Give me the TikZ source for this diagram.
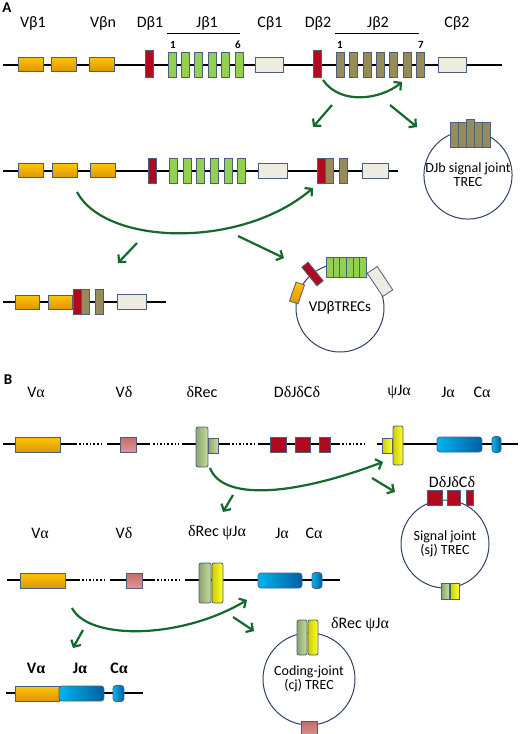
\documentclass[tikz,border=0pt]{standalone}
\usepackage{fontspec}
\setmainfont{Carlito}
\newfontfamily\grk{Liberation Serif}
\usepackage{tikz}
\definecolor{segedge}{RGB}{75, 95, 125}
\definecolor{vgold}{RGB}{255, 196, 0}
\definecolor{vorange}{RGB}{222, 150, 10}
\definecolor{dred}{RGB}{175, 10, 30}
\definecolor{jgreen}{RGB}{146, 208, 80}
\definecolor{jolive}{RGB}{150, 140, 90}
\definecolor{cgrey}{RGB}{238, 236, 225}
\definecolor{trecblue}{RGB}{45, 65, 105}
\definecolor{recgreen}{RGB}{20, 105, 45}
\definecolor{recleft}{RGB}{140, 165, 110}
\definecolor{recright}{RGB}{200, 220, 160}
\definecolor{psileft}{RGB}{205, 205, 0}
\definecolor{psiright}{RGB}{255, 255, 50}
\definecolor{jalight}{RGB}{0, 180, 240}
\definecolor{jadark}{RGB}{0, 95, 160}
\definecolor{vdred}{RGB}{200, 105, 105}
\definecolor{vdlight}{RGB}{222, 150, 150}
\usetikzlibrary{shapes, arrows, arrows.meta, positioning, calc}
\newcommand{\grkalpha}{{\grk α}}
\newcommand{\grkdelta}{{\grk δ}}
\newcommand{\grkpsi}{{\grk ψ}}

\begin{document}
\begin{tikzpicture}[
    x=1pt, y=-1pt,
    >={Straight Barb[length=5pt, width=11pt]},
    chrom/.style={line width=1.8pt},
    gap/.style={line width=1.8pt, dash pattern=on 1.6pt off 2pt},
    seg/.style={rectangle, draw=segedge, line width=0.8pt, inner sep=0pt, outer sep=0pt},
    vseg/.style={seg, top color=vgold, bottom color=vorange, minimum width=25pt, minimum height=14pt},
    dseg/.style={seg, fill=dred, minimum width=8pt, minimum height=27pt},
    jseg/.style={seg, fill=jgreen, minimum width=8pt, minimum height=25pt},
    oseg/.style={seg, fill=jolive, minimum width=8pt, minimum height=25pt},
    cseg/.style={seg, fill=cgrey, minimum width=28pt, minimum height=15pt},
    vdseg/.style={seg, top color=vdred, bottom color=vdlight, minimum width=16pt, minimum height=15pt},
    recseg/.style={seg, left color=recleft, right color=recright},
    psiseg/.style={seg, left color=psileft, right color=psiright},
    jaseg/.style={seg, left color=jalight, right color=jadark, rounded corners=3pt},
    redbox/.style={seg, fill=dred, minimum height=15pt},
    lbl/.style={font=\fontsize{16}{18}\selectfont},
    num/.style={font=\fontsize{11}{12}\selectfont\bfseries},
    panel/.style={font=\fontsize{15}{17}\selectfont\bfseries},
    trec/.style={circle, draw=trecblue, line width=1pt, align=center, inner sep=0pt, font=\fontsize{14}{14}\selectfont},
    arrow/.style={->, draw=recgreen, line width=2.2pt}
]
    \useasboundingbox (0,0) rectangle (520,734);

    % ---------- A ----------
    \node[panel] (pA) at (7,8) {A};
    \node[lbl] (lVb1) at (33,23) {Vβ1};
    \node[lbl] (lVbn) at (103,23) {Vβn};
    \node[lbl] (lDb1) at (150,23) {Dβ1};
    \node[lbl] (lJb1) at (207,23) {Jβ1};
    \node[lbl] (lCb1) at (270,23) {Cβ1};
    \node[lbl] (lDb2) at (318,23) {Dβ2};
    \node[lbl] (lJb2) at (378,23) {Jβ2};
    \node[lbl] (lCb2) at (457,23) {Cβ2};
    \draw[line width=0.9pt] (167,33) -- (240,33);
    \draw[line width=0.9pt] (335,33) -- (419,33);
    \node[num] (nJ1a) at (173,45) {1};
    \node[num] (nJ1b) at (238,45) {6};
    \node[num] (nJ2a) at (340,45) {1};
    \node[num] (nJ2b) at (421,45) {7};

    % germline
    \draw[chrom] (3,65) -- (502,65);
    \node[vseg] (vA1) at (30.5,64) {};
    \node[vseg] (vA2) at (63.5,64) {};
    \node[vseg] (vA3) at (102,64) {};
    \node[dseg] (dA1) at (149.5,63.5) {};
    \foreach \i in {1,...,6} \node[jseg] (jA\i) at ({158.6+13.4*\i},64.5) {};
    \node[cseg] (cA1) at (269,64.5) {};
    \node[dseg] (dA2) at (317.5,63.5) {};
    \foreach \i in {1,...,7} \node[oseg] (kA\i) at ({327.2+13.33*\i},64.5) {};
    \node[cseg] (cA2) at (452,64.5) {};

    \coordinate (djS) at (323,80);
    \coordinate (djE) at (402,82);
    \draw[arrow] (djS) .. controls (340,105) and (380,100) .. (djE);
    \coordinate (dj1S) at (332,105);
    \coordinate (dj1E) at (313,127);
    \coordinate (dj2S) at (390,105);
    \coordinate (dj2E) at (417,127);
    \draw[arrow] (dj1S) -- (dj1E);
    \draw[arrow] (dj2S) -- (dj2E);

    % DJ rearranged
    \draw[chrom] (3,171) -- (398,171);
    \node[vseg] (vB1) at (31,170.5) {};
    \node[vseg] (vB2) at (64.5,170.5) {};
    \node[vseg] (vB3) at (103,170.5) {};
    \node[dseg, minimum height=25pt] (dB1) at (152,170.5) {};
    \foreach \i in {1,...,6} \node[jseg] (jB\i) at ({159.9+13.6*\i},170.5) {};
    \node[cseg, minimum width=29pt] (cB1) at (272.5,170.5) {};
    \node[dseg, minimum height=25pt] (dB2) at (321.5,170.5) {};
    \node[oseg] (kB1) at (329.5,170.5) {};
    \node[oseg] (kB2) at (343.5,170.5) {};
    \node[cseg, minimum width=26pt] (cB2) at (375,170.5) {};

    % DJb TREC
    \node[trec, minimum size=86pt] (djb) at (468,175) {DJb signal joint\\TREC};
    \node[oseg] (tk1) at (454,134.5) {};
    \node[oseg] (tk2) at (462,134.5) {};
    \node[oseg, minimum height=28pt] (tk3) at (470,133) {};
    \node[oseg] (tk4) at (478,134.5) {};
    \node[oseg] (tk5) at (486,134.5) {};

    \coordinate (vdS) at (77,192);
    \coordinate (vdE) at (313,188);
    \draw[arrow] (vdS) .. controls (105,245) and (240,250) .. (vdE);
    \coordinate (vd1S) at (137,243);
    \coordinate (vd1E) at (118,263);
    \coordinate (vd2S) at (238,236);
    \coordinate (vd2E) at (284,258);
    \draw[arrow] (vd1S) -- (vd1E);
    \draw[arrow] (vd2S) -- (vd2E);

    % VDJ rearranged
    \draw[chrom] (3,302) -- (166,302);
    \node[vseg, minimum width=24pt] (vC1) at (27,302) {};
    \node[vseg, minimum width=24pt] (vC2) at (60,302) {};
    \node[dseg, minimum height=25pt] (dC1) at (77.5,301.5) {};
    \node[oseg] (kC1) at (85.5,301.5) {};
    \node[oseg] (kC2) at (99.5,301.5) {};
    \node[cseg, minimum width=29pt] (cC1) at (131.5,301.5) {};

    % VDb TRECs
    \node[trec, minimum size=88pt, font=\fontsize{15}{16}\selectfont] (vdb) at (340,308) {VDβTRECs};
    \node[vseg, minimum width=20pt, minimum height=9pt, rotate=71] (tv1) at (297,293) {};
    \node[dseg, minimum height=24pt, rotate=39] (td1) at (312.5,274) {};
    \foreach \i in {1,...,6} \node[jseg, minimum width=6.7pt, minimum height=20pt] (tj\i) at ({323+6.67*\i},267) {};
    \node[cseg, minimum width=28pt, minimum height=12pt, rotate=-56.5] (tc1) at (380,281.5) {};

    % ---------- B ----------
    \node[panel] (pB) at (8,380) {B};
    \node[lbl] (lVa) at (36,392) {V\grkalpha};
    \node[lbl] (lVd) at (124,392) {V\grkdelta};
    \node[lbl] (lRec) at (202,392) {\grkdelta Rec};
    \node[lbl] (lDJC) at (297,392) {D\grkdelta J\grkdelta C\grkdelta};
    \node[lbl] (lPsi) at (399,392) {\grkpsi J\grkalpha};
    \node[lbl] (lJa) at (448,392) {J\grkalpha};
    \node[lbl] (lCa) at (482,392) {C\grkalpha};

    % germline
    \draw[chrom] (3,444) -- (77,444);
    \draw[gap] (79,444) -- (104,444);
    \draw[chrom] (107,444) -- (150,444);
    \draw[gap] (153,444) -- (179,444);
    \draw[chrom] (182,444) -- (230,444);
    \draw[gap] (232,444) -- (257,444);
    \draw[chrom] (258,444) -- (340,444);
    \draw[gap] (342,444) -- (367,444);
    \draw[chrom] (377,444) -- (518,444);
    \node[vseg, minimum width=45pt, minimum height=15pt] (vaA) at (37.5,444.5) {};
    \node[vdseg] (vdA) at (128,444.5) {};
    \node[recseg, minimum width=12pt, minimum height=40pt, rounded corners=2pt] (recA) at (202,447) {};
    \node[recseg, minimum width=10pt, minimum height=15pt] (recA2) at (213,445.5) {};
    \node[redbox, minimum width=16pt] (rdA1) at (278,444.5) {};
    \node[redbox, minimum width=15pt] (rdA2) at (302.5,444.5) {};
    \node[redbox, minimum width=11pt] (rdA3) at (324.5,444.5) {};
    \node[psiseg, minimum width=10pt, minimum height=15pt] (psA2) at (387,445.5) {};
    \node[psiseg, minimum width=10pt, minimum height=39pt, rounded corners=2pt] (psA) at (398,445.5) {};
    \node[jaseg, minimum width=45pt, minimum height=15pt] (jaA) at (459.5,444.5) {};
    \node[jaseg, minimum width=9pt, minimum height=16pt] (caA) at (496.5,444.5) {};

    \coordinate (sjS) at (210,468);
    \coordinate (sjE) at (383,462);
    \draw[arrow] (sjS) .. controls (222,500) and (290,497) .. (sjE);
    \coordinate (sj1S) at (233,495);
    \coordinate (sj1E) at (223,512);
    \coordinate (sj2S) at (372,478);
    \coordinate (sj2E) at (395,492);
    \draw[arrow] (sj1S) -- (sj1E);
    \draw[arrow] (sj2S) -- (sj2E);

    % sj TREC
    \node[trec, minimum size=88pt] (sjt) at (445,544) {Signal joint\\(sj) TREC};
    \node[lbl] (lDJC2) at (452,482) {D\grkdelta J\grkdelta C\grkdelta};
    \node[redbox, minimum width=15pt] (trd1) at (434.5,497.5) {};
    \node[redbox, minimum width=13pt] (trd2) at (453.5,497.5) {};
    \node[redbox, minimum width=7pt] (trd3) at (469.5,497.5) {};
    \node[recseg, minimum width=8pt, minimum height=16pt] (trc1) at (445,591) {};
    \node[psiseg, minimum width=9pt, minimum height=16pt] (trp1) at (454.5,591) {};

    % deletion of delta locus
    \node[lbl] (lVa2) at (40,533) {V\grkalpha};
    \node[lbl] (lVd2) at (124,533) {V\grkdelta};
    \node[lbl] (lRP2) at (217,533) {\grkdelta Rec \grkpsi J\grkalpha};
    \node[lbl] (lJa2) at (282,533) {J\grkalpha};
    \node[lbl] (lCa2) at (314,533) {C\grkalpha};
    \draw[chrom] (7,580) -- (80,580);
    \draw[gap] (82,580) -- (106,580);
    \draw[chrom] (110,580) -- (155,580);
    \draw[gap] (157,580) -- (181,580);
    \draw[chrom] (185,580) -- (340,580);
    \node[vseg, minimum width=45pt, minimum height=15pt] (vaB) at (42.5,580.5) {};
    \node[vdseg] (vdB) at (134,580.5) {};
    \node[recseg, minimum width=12pt, minimum height=40pt, rounded corners=2pt] (recB) at (205,583) {};
    \node[psiseg, minimum width=11pt, minimum height=40pt, rounded corners=2pt] (psB) at (217.5,583) {};
    \node[jaseg, minimum width=44pt, minimum height=15pt] (jaB) at (280,580.5) {};
    \node[jaseg, minimum width=10pt, minimum height=16pt] (caB) at (317,580.5) {};

    \coordinate (cjS) at (72,608);
    \coordinate (cjE) at (247,600);
    \draw[arrow] (cjS) .. controls (88,640) and (180,640) .. (cjE);
    \coordinate (cj1S) at (83,630);
    \coordinate (cj1E) at (73,648);
    \coordinate (cj2S) at (233,617);
    \coordinate (cj2E) at (254,631);
    \draw[arrow] (cj1S) -- (cj1E);
    \draw[arrow] (cj2S) -- (cj2E);

    % cj TREC
    \node[trec, minimum size=92pt] (cjt) at (309,679) {Coding-joint\\(cj) TREC};
    \node[recseg, minimum width=10pt, minimum height=35pt, rounded corners=2pt] (tcr1) at (302,637.5) {};
    \node[psiseg, minimum width=10pt, minimum height=35pt, rounded corners=2pt] (tcp1) at (313,637.5) {};
    \node[lbl] (lRP3) at (360,625) {\grkdelta Rec \grkpsi J\grkalpha};
    \node[vdseg] (tvd1) at (309,729) {};

    % VJ rearranged
    \node[lbl, font=\fontsize{16}{18}\selectfont\bfseries] (lVa3) at (36,668) {V\grkalpha};
    \node[lbl, font=\fontsize{16}{18}\selectfont\bfseries] (lJa3) at (80,668) {J\grkalpha};
    \node[lbl, font=\fontsize{16}{18}\selectfont\bfseries] (lCa3) at (119,668) {C\grkalpha};
    \draw[chrom] (6,693) -- (143,693);
    \node[vseg, minimum width=44pt, minimum height=15pt] (vaC) at (37,693.5) {};
    \node[jaseg, minimum width=45pt, minimum height=15pt] (jaC) at (81.5,693.5) {};
    \node[jaseg, minimum width=11pt, minimum height=16pt] (caC) at (118.5,693.5) {};
\end{tikzpicture}
\end{document}
